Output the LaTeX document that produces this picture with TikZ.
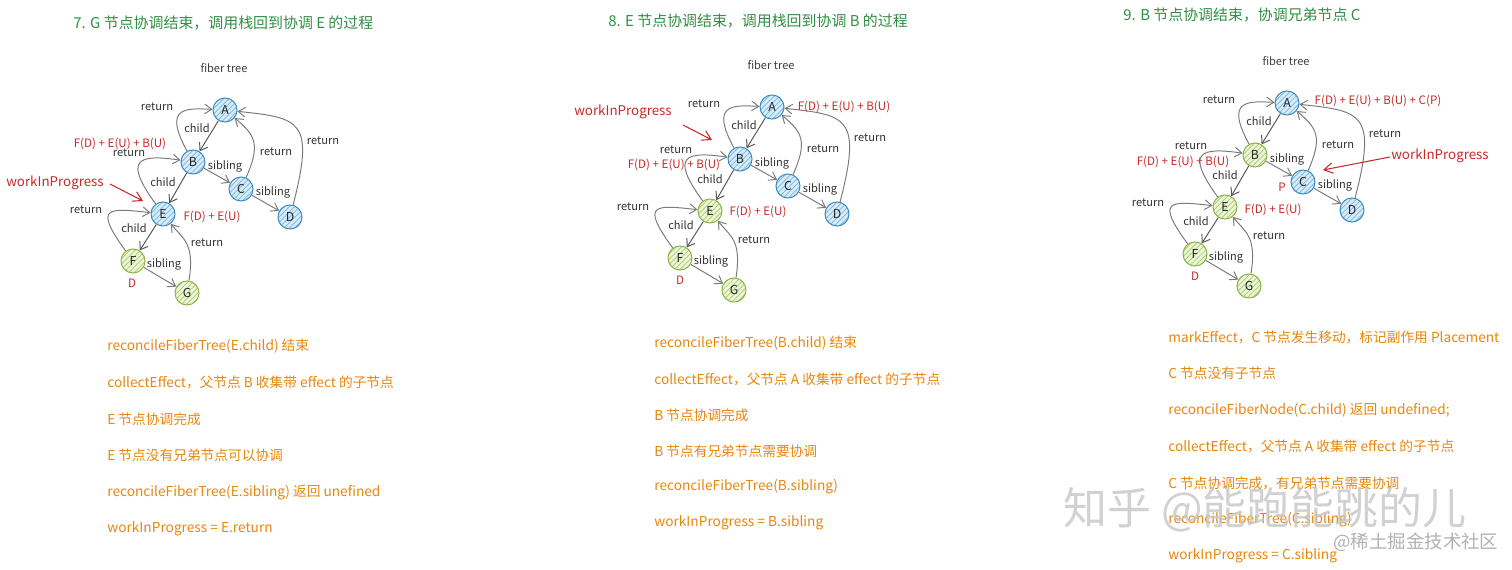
\documentclass[tikz,border=0pt]{standalone}
\usepackage{fontspec}
\setmainfont{Noto Sans CJK SC}
\usetikzlibrary{arrows.meta,patterns}

\definecolor{titlegreen}{HTML}{2F9044}
\definecolor{stepor}{HTML}{E8870E}
\definecolor{notered}{HTML}{C92A2A}
\definecolor{bluefill}{HTML}{D7ECFA}
\definecolor{blueline}{HTML}{3D8BC0}
\definecolor{bluehatch}{HTML}{7DB5DC}
\definecolor{greenfill}{HTML}{EDF6D8}
\definecolor{greenline}{HTML}{8DB44A}
\definecolor{greenhatch}{HTML}{A9CA6E}
\definecolor{linkgray}{HTML}{7A7A7A}
\definecolor{childgray}{HTML}{555555}

\tikzset{
  fiber/.style={circle, draw=#1line, line width=0.6pt, preaction={fill=#1fill},
    pattern=north east lines, pattern color=#1hatch, minimum size=0.48cm,
    inner sep=0pt, font=\fontsize{7}{8}\selectfont, text=black!85},
  edgelabel/.style={font=\fontsize{6.3}{7}\selectfont, text=black!80, inner sep=1pt},
  note/.style={font=\fontsize{6.6}{8}\selectfont, text=notered, inner sep=1pt},
  wip/.style={font=\fontsize{7.6}{9}\selectfont, text=notered, inner sep=1pt},
  steptext/.style={anchor=west, font=\fontsize{7.8}{9}\selectfont, text=stepor, inner sep=0pt},
  title/.style={anchor=west, font=\fontsize{8.5}{10}\selectfont, text=titlegreen, inner sep=0pt},
  link/.style={draw=linkgray, line width=0.55pt, -{Straight Barb[length=4pt,width=5.5pt]}},
  childlink/.style={link, draw=childgray},
  wiparrow/.style={draw=notered, line width=0.6pt, -{Straight Barb[length=5pt,width=6pt]}}
}

\begin{document}
\begin{tikzpicture}[x=0.02cm, y=-0.02cm]
\fill[white] (0,0) rectangle (1512,570);
\useasboundingbox (0,0) rectangle (1512,570);

% titles
\node[title] (t1) at (73,23) {7. G 节点协调结束，调用栈回到协调 E 的过程};
\node[title] (t2) at (608,21) {8. E 节点协调结束，调用栈回到协调 B 的过程};
\node[title] (t3) at (1123,15) {9. B 节点协调结束，协调兄弟节点 C};

% the same fiber tree in each panel
\foreach \dx/\dy/\cB/\cE [count=\p] in {0/0/blue/blue, 547/-3/blue/green, 1062/-7/green/green}{
\begin{scope}[shift={(\dx,\dy)}]
\node[font=\fontsize{6.3}{7}\selectfont, text=black!75] (ft\p) at (224,68) {fiber tree};
\node[fiber=blue] (A\p) at (225,110) {A};
\node[fiber=\cB] (B\p) at (193,162) {B};
\node[fiber=blue] (C\p) at (241,189) {C};
\node[fiber=blue] (D\p) at (290,217) {D};
\node[fiber=\cE] (E\p) at (163,214) {E};
\node[fiber=green] (F\p) at (133,261) {F};
\node[fiber=green] (G\p) at (187,293) {G};

\node[edgelabel] (rBA\p) at (157,107) {return};
\node[edgelabel] (cAB\p) at (197,128) {child};
\node[edgelabel] (rEB\p) at (129,153) {return};
\node[edgelabel] (sBC\p) at (225,166) {sibling};
\node[edgelabel] (rCA\p) at (276,152) {return};
\node[edgelabel] (rDA\p) at (323,141) {return};
\node[edgelabel] (cBE\p) at (163,182) {child};
\node[edgelabel] (sCD\p) at (273,192) {sibling};
\node[edgelabel] (rFE\p) at (86,210) {return};
\node[edgelabel] (cEF\p) at (134,228) {child};
\node[edgelabel] (rGE\p) at (207,243) {return};
\node[edgelabel] (sFG\p) at (164,264) {sibling};

\foreach \from/\to in {A/B,B/E,E/F}
\draw[childlink] (\from\p) -- (\to\p);
\foreach \from/\to in {B/C,C/D,F/G}
\draw[link] (\from\p) -- (\to\p);
\draw[link] (B\p) .. controls +(-30,-55) and +(-40,-2) .. (A\p);
\draw[link] (E\p) .. controls +(-40,-55) and +(-55,-8) .. (B\p);
\draw[link] (C\p) .. controls +(20,-45) and +(30,25) .. (A\p);
\draw[link] (D\p) .. controls +(25,-97) and +(75,8) .. (A\p);
\draw[link] (F\p) .. controls +(-40,-55) and +(-55,-6) .. (E\p);
\draw[link] (G\p) .. controls +(8,-50) and +(20,25) .. (E\p);
\end{scope}
}

% panel 1 notes
\node[note] (n11) at (120,144) {F(D) + E(U) + B(U)};
\node[note] (n12) at (212,217) {F(D) + E(U)};
\node[note] (n13) at (132,283) {D};
\node[wip] (wip1) at (55,183) {workInProgress};
\coordinate (wip1s) at (110,184);
\coordinate (wip1e) at (143,201);
\draw[wiparrow] (wip1s) -- (wip1e);

% panel 2 notes
\node[note] (n21) at (844,107) {F(D) + E(U) + B(U)};
\node[note] (n22) at (674,165) {F(D) + E(U) + B(U)};
\node[note] (n23) at (758,212) {F(D) + E(U)};
\node[note] (n24) at (680,280) {D};
\node[wip] (wip2) at (623,112) {workInProgress};
\coordinate (wip2s) at (683,125);
\coordinate (wip2e) at (712,140);
\draw[wiparrow] (wip2s) -- (wip2e);

% panel 3 notes
\node[note] (n31) at (1378,101) {F(D) + E(U) + B(U) + C(P)};
\node[note] (n32) at (1183,162) {F(D) + E(U) + B(U)};
\node[note] (n33) at (1282,187) {P};
\node[note] (n34) at (1273,210) {F(D) + E(U)};
\node[note] (n35) at (1195,276) {D};
\node[wip] (wip3) at (1440,156) {workInProgress};
\coordinate (wip3s) at (1390,157);
\coordinate (wip3e) at (1323,170);
\draw[wiparrow] (wip3s) -- (wip3e);

% steps
\foreach \t [count=\i] in {reconcileFiberTree(E.child) 结束,
  collectEffect，父节点 B 收集带 effect 的子节点,
  E 节点协调完成,
  E 节点没有兄弟节点可以协调,
  reconcileFiberTree(E.sibling) 返回 unefined,
  workInProgress = E.return}
\node[steptext] (s1\i) at (107,{346+36.6*(\i-1)}) {\t};

\foreach \t [count=\i] in {reconcileFiberTree(B.child) 结束,
  collectEffect，父节点 A 收集带 effect 的子节点,
  B 节点协调完成,
  B 节点有兄弟节点需要协调,
  reconcileFiberTree(B.sibling),
  workInProgress = B.sibling}
\node[steptext] (s2\i) at (654,{343+36*(\i-1)}) {\t};

\foreach \t [count=\i] in {markEffect，C 节点发生移动，标记副作用 Placement,
  C 节点没有子节点,
  reconcileFiberNode(C.child) 返回 undefined;,
  collectEffect，父节点 A 收集带 effect 的子节点,
  C 节点协调完成，有兄弟节点需要协调,
  reconcileFiberTree(C.sibling),
  workInProgress = C.sibling}
\node[steptext] (s3\i) at (1168,{337+36.5*(\i-1)}) {\t};

% watermark
\node[anchor=west, font=\fontsize{25}{28}\selectfont, text=gray!45, opacity=0.8, inner sep=0pt] (zhihu) at (1063,510) {知乎\ @能跑能跳的儿};
\node[anchor=west, font=\fontsize{10.5}{12}\selectfont, text=gray!60, inner sep=0pt] (juejin) at (1333,542) {@稀土掘金技术社区};
\end{tikzpicture}
\end{document}
